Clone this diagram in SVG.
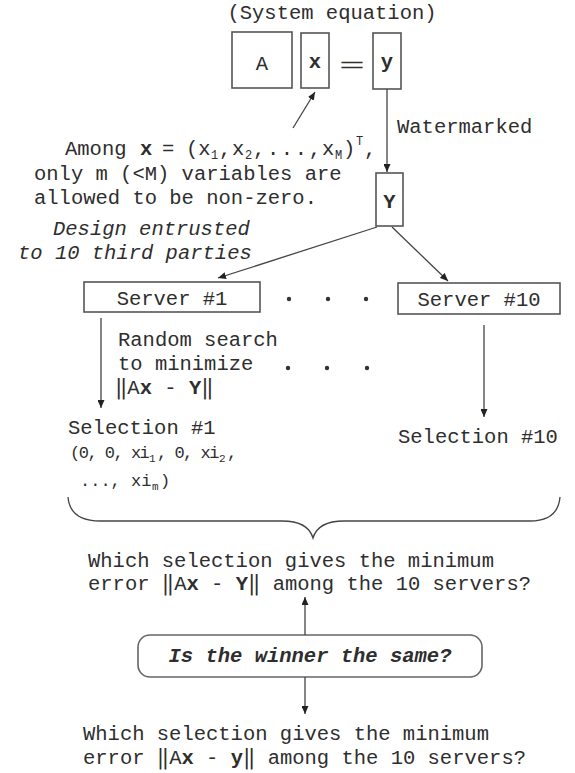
<svg xmlns="http://www.w3.org/2000/svg" width="575" height="773" viewBox="0 0 575 773">
<style>
.t{font-family:"Liberation Mono","DejaVu Sans Mono",monospace;font-size:20.5px;fill:#2e2e2e}
.b{font-weight:bold}
.i{font-style:italic}
.sub{font-size:12px}
.tp{font-size:17px}
.tc{letter-spacing:-1.5px}
.sm{font-size:11px}
.box{fill:#fff;stroke:#555;stroke-width:1.6}
.ln{stroke:#444;stroke-width:1.3;fill:none}
.dot{fill:#333}
</style>
<defs>
<marker id="ah" markerWidth="8" markerHeight="7" refX="8" refY="3.5" orient="auto" markerUnits="userSpaceOnUse">
<path d="M0,0 L8,3.5 L0,7 z" fill="#222"/>
</marker>
</defs>
<rect width="575" height="773" fill="#fff"/>

<g id="title"><text class="t" x="332" y="19" text-anchor="middle">(System equation)</text></g>

<g id="eq">
<g id="boxA"><rect class="box" x="232" y="32" width="60" height="56"/><text class="t" x="262" y="70" text-anchor="middle">A</text></g>
<g id="boxx"><rect class="box" x="301" y="33" width="28" height="55"/><text class="t b" x="315" y="68" text-anchor="middle">x</text></g>
<g id="eqsign"><text class="t" x="352" y="72" text-anchor="middle" font-size="30" textLength="26" lengthAdjust="spacingAndGlyphs">=</text></g>
<g id="boxy"><rect class="box" x="373" y="33" width="28" height="56"/><text class="t b" x="387" y="68" text-anchor="middle">y</text></g>
</g>

<g id="constraint">
<text class="t" x="65" y="155">Among</text>
<text class="t b" x="140" y="155">x</text>
<text class="t" x="162" y="155">=</text>
<text class="t" x="186" y="155">(x</text>
<text class="t sub" x="211" y="159">1</text>
<text class="t" x="219" y="155">,</text>
<text class="t" x="232" y="155">x</text>
<text class="t sub" x="245" y="159">2</text>
<text class="t" x="253" y="155" textLength="68" lengthAdjust="spacing">,...,</text>
<text class="t" x="322" y="155">x</text>
<text class="t sub" x="335" y="159">M</text>
<text class="t" x="343" y="155">)</text>
<text class="t sub" x="356" y="145">T</text>
<text class="t" x="364" y="155">,</text>
<text class="t" x="34" y="180">only m (&lt;M) variables are</text>
<text class="t" x="34" y="204">allowed to be non-zero.</text>
</g>

<g id="watermarked"><text class="t" x="397" y="133">Watermarked</text></g>

<g id="boxY"><rect class="box" x="376" y="173" width="27" height="53"/><text class="t b" x="389.5" y="208" text-anchor="middle">Y</text></g>

<g id="design">
<text class="t i" x="53" y="235">Design entrusted</text>
<text class="t i" x="18" y="259">to 10 third parties</text>
</g>

<g id="server1"><rect class="box" x="84" y="282" width="176" height="30"/><text class="t" x="172" y="305" text-anchor="middle">Server #1</text></g>
<g id="server10"><rect class="box" x="398" y="283" width="162" height="31"/><text class="t" x="479" y="306" text-anchor="middle">Server #10</text></g>

<g id="dots">
<circle class="dot" cx="289" cy="299" r="2.2"/><circle class="dot" cx="328" cy="299" r="2.2"/><circle class="dot" cx="366" cy="299" r="2.2"/>
<circle class="dot" cx="288" cy="368" r="2.2"/><circle class="dot" cx="327" cy="368" r="2.2"/><circle class="dot" cx="367" cy="368" r="2.2"/>
</g>

<g id="search">
<text class="t" x="118" y="346">Random search</text>
<text class="t" x="118" y="370">to minimize</text>
<text class="t" x="115" y="394">‖A<tspan class="b">x</tspan> - <tspan class="b">Y</tspan>‖</text>
</g>

<g id="selection1">
<text class="t" x="68" y="434">Selection #1</text>
<text class="t tp tc" x="70" y="458">(0, 0, xi</text>
<text class="t sm" x="149" y="462">1</text>
<text class="t tp tc" x="157" y="458">, 0, xi</text>
<text class="t sm" x="219" y="462">2</text>
<text class="t tp tc" x="227" y="458">,</text>
<text class="t tp" x="80" y="486">..., xi</text>
<text class="t sm" x="152" y="490">m</text>
<text class="t tp" x="160" y="486">)</text>
</g>

<g id="selection10"><text class="t" x="398" y="443">Selection #10</text></g>

<g id="brace"><path class="ln" d="M68,497 Q70,521 100,521 L282,521 Q308,521 313,538 Q318,521 344,521 L530,521 Q558,521 560,497"/></g>

<g id="question1">
<text class="t" x="88" y="567">Which selection gives the minimum</text>
<text class="t" x="88" y="590">error ‖A<tspan class="b">x</tspan> - <tspan class="b">Y</tspan>‖  among the 10 servers?</text>
</g>

<g id="winner"><rect class="box" x="138" y="635" width="344" height="42" rx="12" ry="12" style="stroke:#666"/><text class="t b i" x="310" y="662" text-anchor="middle">Is the winner the same?</text></g>

<g id="question2">
<text class="t" x="83" y="740">Which selection gives the minimum</text>
<text class="t" x="83" y="764">error ‖A<tspan class="b">x</tspan> - <tspan class="b">y</tspan>‖  among the 10 servers?</text>
</g>

<g id="connectors">
<line class="ln" x1="293" y1="128" x2="315" y2="92" marker-end="url(#ah)"/>
<line class="ln" x1="387" y1="89" x2="387" y2="172" marker-end="url(#ah)"/>
<line class="ln" x1="377" y1="227" x2="218" y2="278" marker-end="url(#ah)"/>
<line class="ln" x1="392" y1="227" x2="448" y2="281" marker-end="url(#ah)"/>
<line class="ln" x1="101" y1="318" x2="101" y2="408" marker-end="url(#ah)"/>
<line class="ln" x1="484" y1="325" x2="484" y2="417" marker-end="url(#ah)"/>
<line class="ln" x1="305" y1="635" x2="305" y2="597" marker-end="url(#ah)"/>
<line class="ln" x1="305" y1="677" x2="305" y2="714" marker-end="url(#ah)"/>
</g>
</svg>
